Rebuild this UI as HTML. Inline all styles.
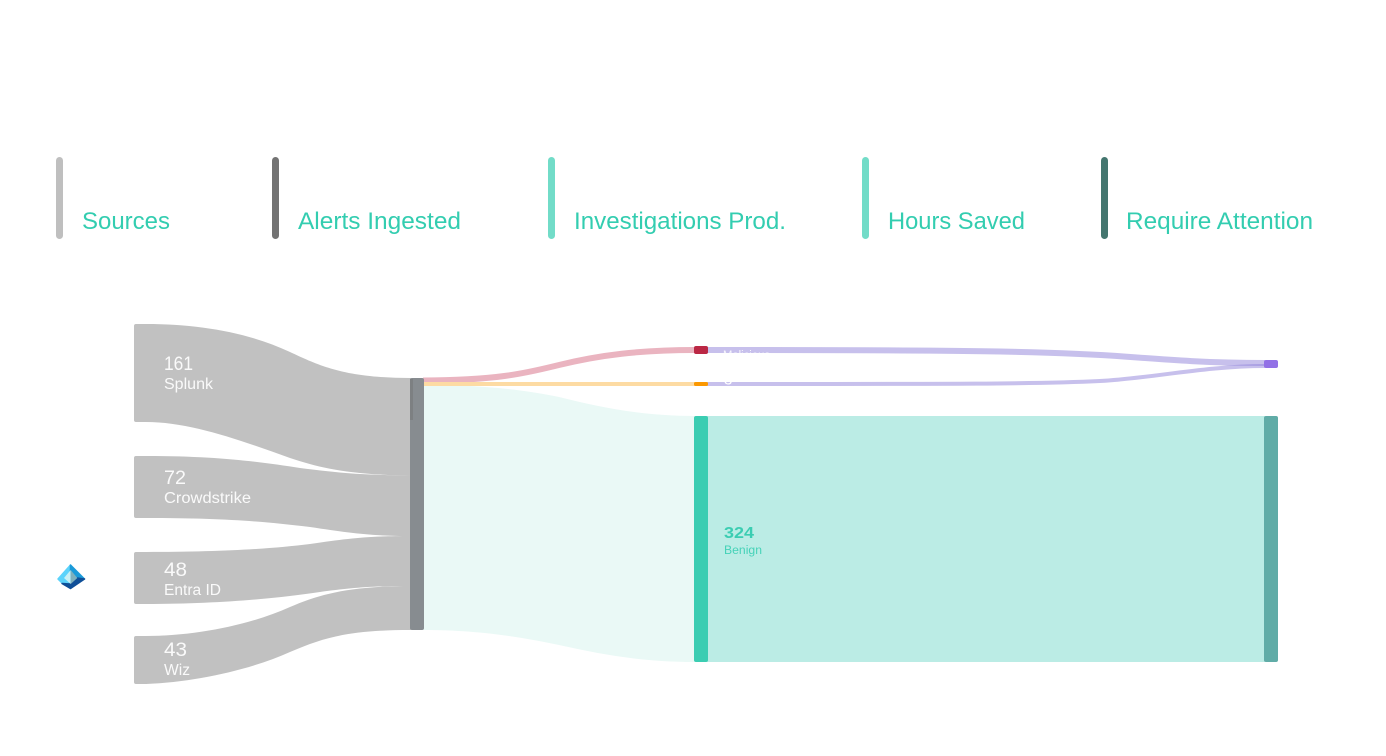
<!DOCTYPE html>
<html><head><meta charset="utf-8"><style>
html,body{margin:0;padding:0;background:#fff;width:1386px;height:756px;overflow:hidden}
svg{display:block}
text{font-family:"Liberation Sans",sans-serif}
</style></head><body>
<svg width="1386" height="756" viewBox="0 0 1386 756" xmlns="http://www.w3.org/2000/svg">
<rect width="1386" height="756" fill="#fff"/>
<!-- legend -->
<rect x="56" y="157" width="7" height="82" rx="3.5" fill="#bfbfbf"/>
<rect x="272" y="157" width="7" height="82" rx="3.5" fill="#737373"/>
<rect x="548" y="157" width="7" height="82" rx="3.5" fill="#72dcc8"/>
<rect x="862" y="157" width="7" height="82" rx="3.5" fill="#72dcc8"/>
<rect x="1101" y="157" width="7" height="82" rx="3.5" fill="#44766f"/>
<g font-size="24" fill="#33cdb0">
<text x="82" y="229" textLength="88" lengthAdjust="spacingAndGlyphs">Sources</text>
<text x="298" y="229" textLength="163" lengthAdjust="spacingAndGlyphs">Alerts Ingested</text>
<text x="574" y="229" textLength="212" lengthAdjust="spacingAndGlyphs">Investigations Prod.</text>
<text x="888" y="229" textLength="137" lengthAdjust="spacingAndGlyphs">Hours Saved</text>
<text x="1126" y="229" textLength="187" lengthAdjust="spacingAndGlyphs">Require Attention</text>
</g>
<!-- source links -->
<g fill="#c1c1c1">
<path d="M146 324C200 324 250 333 290 352C320 366 345 378 411 378V475.500C350 475 320 468 290 458C240 440 190 422 146 422Z"/>
<path d="M146 456C220 456 260 462 300 468C340 473 360 475 411 475.500V536C370 536 350 533 310 527C260 521 220 518 146 518Z"/>
<path d="M146 552C220 552 270 549 310 544C350 538 370 536 411 536V586C370 586 350 588 320 592C280 598 220 604 146 604Z"/>
<path d="M146 636C195 636 250 625 290 607C320 594 350 586 411 586V630C350 630 325 637 290 652C250 670 195 682 146 684Z"/>
</g>
<!-- source nodes -->
<g fill="#c1c1c1">
<rect x="134" y="324" width="14" height="98" rx="2"/>
<rect x="134" y="456" width="14" height="62" rx="2"/>
<rect x="134" y="552" width="14" height="52" rx="2"/>
<rect x="134" y="636" width="14" height="48" rx="2"/>
</g>
<!-- middle links -->
<path d="M423 385C480 385 520 389 559 397C600 407 640 416 695 416V662C640 662 600 654 559 645C520 637 480 630 423 630Z" fill="#eaf9f6"/>
<path d="M423 380.500C500 380.500 530 372 559 365C600 355 640 350 695 350" fill="none" stroke="#eab4c0" stroke-width="6"/>
<path d="M423 384H695" fill="none" stroke="#fddba3" stroke-width="4"/>
<!-- middle node -->
<rect x="410" y="378" width="14" height="252" rx="2" fill="#878c90"/>
<rect x="410" y="379" width="3" height="41" fill="#7d8082"/>
<!-- right links -->
<rect x="707" y="416" width="558" height="246" fill="#bbece5"/>
<g fill="none" stroke="#8f82d9" stroke-opacity=".5">
<path d="M707 350C960 350 1050 351 1127 356.700C1170 360 1210 363 1265 363" stroke-width="6"/>
<path d="M707 384C960 384 1040 384 1100 381C1150 378.500 1205 366 1265 366" stroke-width="4"/>
</g>
<!-- clipped labels -->
<text x="723" y="359" fill="#fff" font-size="11.500" opacity=".85" textLength="47" lengthAdjust="spacingAndGlyphs">Malicious</text>
<text x="724" y="384.500" fill="#fff" font-size="15">3</text>
<!-- nodes -->
<rect x="694" y="346" width="14" height="8" rx="2" fill="#bb2744"/>
<rect x="694" y="382" width="14" height="4" rx="1.500" fill="#fb9800"/>
<rect x="694" y="416" width="14" height="246" rx="2" fill="#3bcdb2"/>
<rect x="1264" y="360" width="14" height="8" rx="2" fill="#9271e6"/>
<rect x="1264" y="416" width="14" height="246" rx="2" fill="#60aca7"/>
<!-- node labels -->
<g fill="#fff" fill-opacity=".92">
<text x="164" y="370" font-size="19" textLength="29" lengthAdjust="spacingAndGlyphs">161</text>
<text x="164" y="389" font-size="15.500" textLength="49" lengthAdjust="spacingAndGlyphs">Splunk</text>
<text x="164" y="484" font-size="19" textLength="22" lengthAdjust="spacingAndGlyphs">72</text>
<text x="164" y="503" font-size="15.500" textLength="87" lengthAdjust="spacingAndGlyphs">Crowdstrike</text>
<text x="164" y="576" font-size="19" textLength="23" lengthAdjust="spacingAndGlyphs">48</text>
<text x="164" y="595" font-size="15.500" textLength="57" lengthAdjust="spacingAndGlyphs">Entra ID</text>
<text x="164" y="656" font-size="19" textLength="23" lengthAdjust="spacingAndGlyphs">43</text>
<text x="164" y="675" font-size="15.500" textLength="26" lengthAdjust="spacingAndGlyphs">Wiz</text>
</g>
<text x="724" y="538" font-size="16" font-weight="700" fill="#3bcdb2" textLength="30" lengthAdjust="spacingAndGlyphs">324</text>
<text x="724" y="554" font-size="11.500" fill="#45d2b8" textLength="38" lengthAdjust="spacingAndGlyphs">Benign</text>
<!-- icon -->
<g stroke-linejoin="round">
<path d="M70.500 565L58 579L61 582L70.500 586Z" fill="#5bd3fb" stroke="#5bd3fb" stroke-width="1.500"/>
<path d="M70.500 565L84.500 579L70.500 584Z" fill="#1a9ad9" stroke="#1a9ad9" stroke-width="1.500"/>
<path d="M84.500 579L70.500 588.500L62 583.500L70.500 584L77 578Z" fill="#0f4f98" stroke="#0f4f98" stroke-width="1.500"/>
<path d="M70.700 570L64 578L70.700 584Z" fill="#c8f0f5"/>
<path d="M70.700 570L77.300 578L70.700 584Z" fill="#7eb0bd"/>
</g>
</svg>
</body></html>
